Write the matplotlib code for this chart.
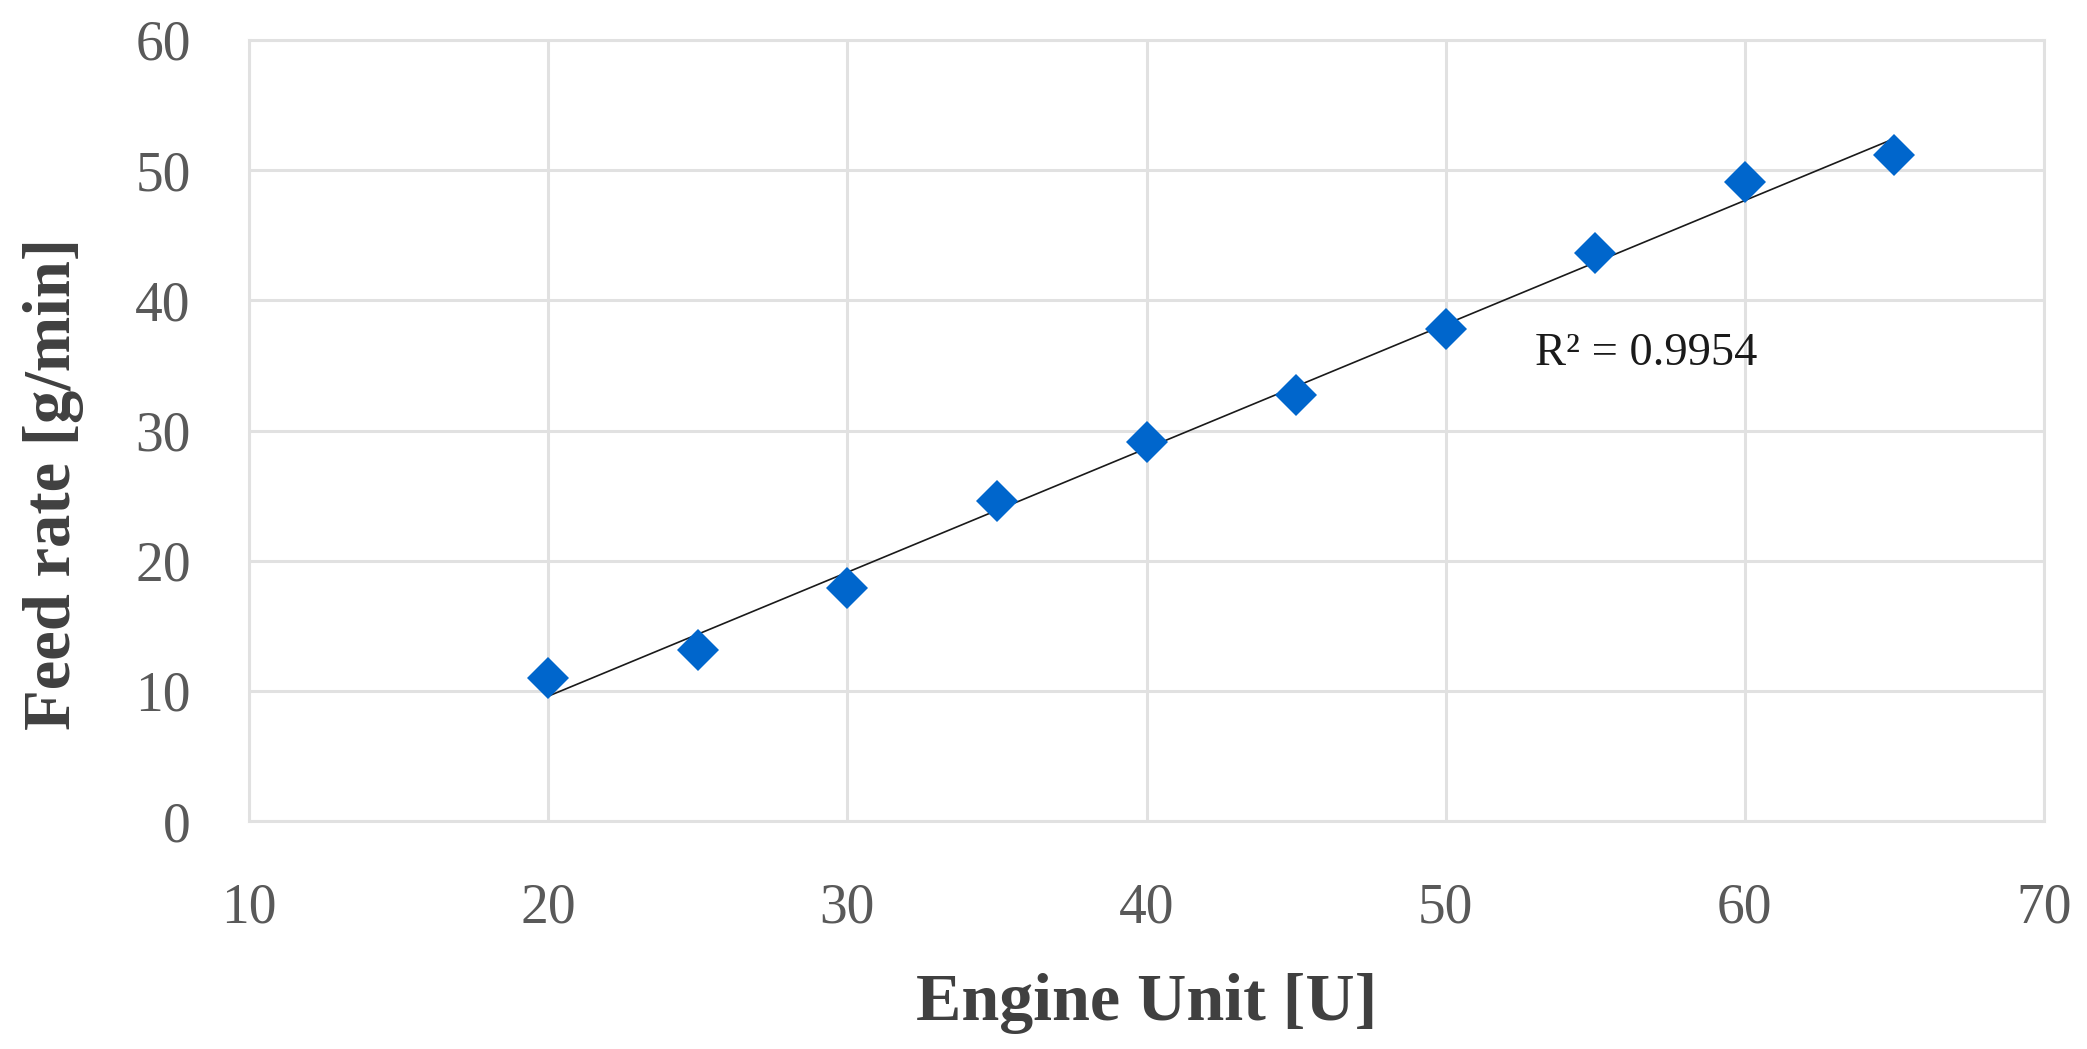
import matplotlib
matplotlib.use('Agg')
import matplotlib.pyplot as plt
import numpy as np

# data
engine_unit = [20, 25, 30, 35, 40, 45, 50, 55, 60, 65]
feed_rate = [11.0, 13.1, 17.9, 24.6, 29.1, 32.7, 37.8, 43.6, 49.1, 51.2]
r2_label = 'R² = 0.9954'
x_ticks = [10, 20, 30, 40, 50, 60, 70]
y_ticks = [0, 10, 20, 30, 40, 50, 60]

plt.rcParams['font.family'] = ['Liberation Serif', 'DejaVu Serif']

fig = plt.figure(figsize=(20.87, 10.49), dpi=100)
ax = fig.add_axes([249/2087, 1-821/1049, (2044-249)/2087, (821-40)/1049])

grid_col = '#e1e1e1'
ax.set_xlim(10, 70)
ax.set_ylim(0, 60)
ax.set_xticks(x_ticks)
ax.set_yticks(y_ticks)
ax.grid(True, color=grid_col, lw=2.2)
ax.set_axisbelow(True)
for s in ax.spines.values():
    s.set_color(grid_col)
    s.set_linewidth(2.2)
ax.tick_params(length=0, labelsize=40, labelcolor='#595959')
ax.tick_params(axis='x', pad=44)
ax.tick_params(axis='y', pad=42)

# linear trend line
k, b = np.polyfit(engine_unit, feed_rate, 1)
xs = np.array([engine_unit[0], engine_unit[-1]])
ax.plot(xs, k*xs + b, color='#1a1a1a', lw=1.2, zorder=3)

ax.plot(engine_unit, feed_rate, 'D', color='#0066cc', ms=21, mew=0, zorder=4)

ax.text(52.98, 35.0, r2_label, fontsize=33.5, color='#1a1a1a', va='baseline', ha='left')

ax.set_xlabel('Engine Unit [U]', fontsize=49, fontweight='bold', color='#404040')
ax.set_ylabel('Feed rate [g/min]', fontsize=48, fontweight='bold', color='#404040')
ax.xaxis.set_label_coords(0.5, -0.194)
ax.yaxis.set_label_coords(-0.092, 0.4315)

fig.savefig('out.png', dpi=100)
